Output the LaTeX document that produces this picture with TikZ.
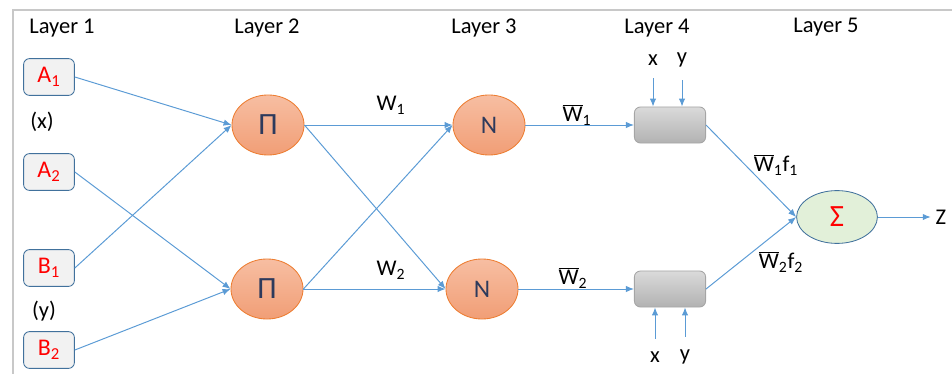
\documentclass[tikz,border=0pt]{standalone}
\usepackage{fontspec}
\setmainfont{Carlito}
\usetikzlibrary{shapes.geometric, arrows.meta, positioning}
\definecolor{colorLine}{RGB}{91, 155, 213}
\definecolor{colorFrame}{RGB}{200, 200, 200}
\definecolor{colorInFill}{RGB}{242, 242, 242}
\definecolor{colorInDraw}{RGB}{65, 113, 156}
\definecolor{colorPiTop}{RGB}{247, 190, 162}
\definecolor{colorPiBot}{RGB}{241, 158, 118}
\definecolor{colorPiDraw}{RGB}{237, 125, 49}
\definecolor{colorDark}{RGB}{45, 58, 92}
\definecolor{colorSumFill}{RGB}{226, 240, 217}
\definecolor{colorRuleTop}{RGB}{218, 218, 218}
\definecolor{colorRuleBot}{RGB}{178, 178, 178}
\definecolor{colorRuleDraw}{RGB}{165, 165, 165}
\tikzstyle{inBox} = [rectangle, rounded corners=1.5mm, minimum width=1.27cm, minimum height=0.92cm, text centered, text=red, draw=colorInDraw, fill=colorInFill, line width=0.6pt, font=\fontsize{17}{20}\selectfont]
\tikzstyle{prodNode} = [ellipse, minimum width=1.8cm, minimum height=1.5cm, text=colorDark, draw=colorPiDraw, top color=colorPiTop, bottom color=colorPiBot, line width=0.6pt, font=\fontsize{18}{20}\selectfont]
\tikzstyle{ruleBox} = [rectangle, rounded corners=1.5mm, minimum width=1.78cm, minimum height=0.9cm, draw=colorRuleDraw, top color=colorRuleTop, bottom color=colorRuleBot, line width=0.6pt]
\tikzstyle{sumNode} = [ellipse, minimum width=2.02cm, minimum height=1.32cm, text=red, draw=colorInDraw, fill=colorSumFill, line width=0.6pt]
\tikzstyle{arrow} = [->, >={Latex[length=2mm, width=1.6mm]}, draw=colorLine, line width=0.7pt]
\newcommand{\barW}[1]{$\overline{\mbox{W}}$\textsubscript{#1}}
\newcommand{\bigSym}[1]{{\fontsize{22}{24}\selectfont #1}}

\begin{document}
\begin{tikzpicture}[x=0.025cm, y=-0.025cm, font=\fontsize{16}{19}\selectfont]

	\useasboundingbox (0,0) rectangle (952,374);
	% frame
	\draw[colorFrame, line width=2pt] (13,374) -- (13,10) -- (952,10);

	% layer titles
	\node (layerOne) at (62,28) {Layer 1};
	\node (layerTwo) at (267,28) {Layer 2};
	\node (layerThree) at (484,28) {Layer 3};
	\node (layerFour) at (657,28) {Layer 4};
	\node (layerFive) at (826,27) {Layer 5};

	% layer 1
	\node (aOne)[inBox] at (49,77) {A\textsubscript{1}};
	\node (xIn) at (42,122) {(x)};
	\node (aTwo)[inBox] at (49,172) {A\textsubscript{2}};
	\node (bOne)[inBox] at (49,268) {B\textsubscript{1}};
	\node (yIn) at (44,311) {(y)};
	\node (bTwo)[inBox] at (49,350) {B\textsubscript{2}};

	% layer 2 and 3
	\node (piOne)[prodNode] at (268,125) {\bigSym{Π}};
	\node (piTwo)[prodNode] at (267,289) {\bigSym{Π}};
	\node (nOne)[prodNode] at (489,125) {N};
	\node (nTwo)[prodNode] at (482,289) {N};

	% layer 4
	\node (ruleOne)[ruleBox] at (670,125) {};
	\node (ruleTwo)[ruleBox] at (670,289) {};
	\node (xTop) at (653,60) {x};
	\node (yTop) at (682,60) {y};
	\node (xBot) at (655,357) {x};
	\node (yBot) at (685,357) {y};

	% layer 5
	\node (sum)[sumNode] at (837,217) {\bigSym{Σ}};
	\node (zOut) at (941,217) {Z};

	% weights
	\node (wOne) at (391,105) {W\textsubscript{1}};
	\node (wTwo) at (391,270) {W\textsubscript{2}};
	\node (wbOne) at (577,115) {\barW{1}};
	\node (wbTwo) at (573,278) {\barW{2}};
	\node (fOne) at (776,165) {\barW{1}f\textsubscript{1}};
	\node (fTwo) at (781,262) {\barW{2}f\textsubscript{2}};

	% lines and arrows
	\draw[arrow] (aOne.east) -- (piOne.west);
	\draw[arrow] (bOne.east) -- (piOne.west);
	\draw[arrow] (aTwo.east) -- (piTwo.west);
	\draw[arrow] (bTwo.east) -- (piTwo.west);

	\draw[arrow] (piOne.east) -- (nOne.west);
	\draw[arrow] (piOne.east) -- (nTwo.west);
	\draw[arrow] (piTwo.east) -- (nOne.west);
	\draw[arrow] (piTwo.east) -- (nTwo.west);

	\draw[arrow] (nOne.east) -- (ruleOne.west);
	\draw[arrow] (nTwo.east) -- (ruleTwo.west);

	\draw[arrow, shorten <=2mm] (xTop) -- (xTop |- ruleOne.north);
	\draw[arrow, shorten <=2mm] (yTop) -- (yTop |- ruleOne.north);
	\draw[arrow, shorten <=2mm] (xBot) -- (xBot |- ruleTwo.south);
	\draw[arrow, shorten <=2mm] (yBot) -- (yBot |- ruleTwo.south);

	\draw[arrow] (ruleOne.east) -- (sum.west);
	\draw[arrow] (ruleTwo.east) -- (sum.west);
	\draw[arrow] (sum) -- (zOut);

\end{tikzpicture}
\end{document}
